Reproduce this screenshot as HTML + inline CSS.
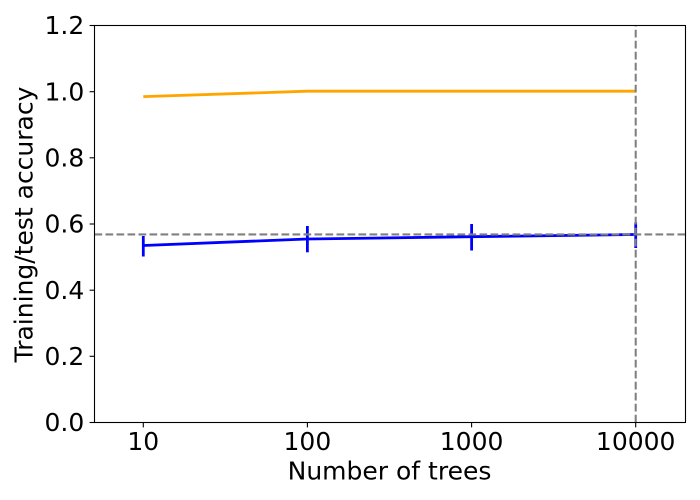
<!DOCTYPE html>
<html>
<head>
<meta charset="utf-8">
<style>
  html, body { margin: 0; padding: 0; background: #ffffff; }
  svg { display: block; }
  text { font-family: "DejaVu Sans", "Liberation Sans", sans-serif; fill: #000; }
</style>
</head>
<body>
<svg width="700" height="500" viewBox="0 0 700 500" xmlns="http://www.w3.org/2000/svg">
  <rect x="0" y="0" width="700" height="500" fill="#ffffff"/>

  <!-- orange training line -->
  <polyline points="143.3,96.6 307.4,91.2 471.6,91.2 635.7,91.2" fill="none" stroke="#FFA500" stroke-width="2.78" stroke-linejoin="round" stroke-linecap="butt"/>

  <!-- blue test line -->
  <polyline points="143.3,245.5 307.4,239 471.6,236.7 635.7,234.5" fill="none" stroke="#0000FF" stroke-width="2.78" stroke-linejoin="round" stroke-linecap="butt"/>
  <!-- error bars -->
  <g stroke="#0000FF" stroke-width="2.78" stroke-linecap="butt">
    <line x1="143.3" y1="236" x2="143.3" y2="256.5"/>
    <line x1="307.4" y1="226" x2="307.4" y2="252.3"/>
    <line x1="471.6" y1="224" x2="471.6" y2="250.5"/>
    <line x1="635.7" y1="222.5" x2="635.7" y2="248"/>
  </g>

  <!-- dashed reference lines -->
  <line x1="94.5" y1="234.4" x2="685.5" y2="234.4" stroke="#808080" stroke-width="2.08" stroke-dasharray="7.7,3.3"/>
  <line x1="635.7" y1="422.5" x2="635.7" y2="25.5" stroke="#808080" stroke-width="2.08" stroke-dasharray="7.7,3.3"/>

  <!-- spines -->
  <rect x="94.5" y="25.5" width="591" height="397" fill="none" stroke="#000" stroke-width="1.1"/>

  <!-- y ticks -->
  <g stroke="#000" stroke-width="1.1">
    <line x1="89.6" y1="422.5" x2="94.5" y2="422.5"/>
    <line x1="89.6" y1="356.3" x2="94.5" y2="356.3"/>
    <line x1="89.6" y1="290.2" x2="94.5" y2="290.2"/>
    <line x1="89.6" y1="224" x2="94.5" y2="224"/>
    <line x1="89.6" y1="157.8" x2="94.5" y2="157.8"/>
    <line x1="89.6" y1="91.7" x2="94.5" y2="91.7"/>
    <line x1="89.6" y1="25.5" x2="94.5" y2="25.5"/>
  </g>
  <g font-size="25" text-anchor="end">
    <text x="84.3" y="431.2">0.0</text>
    <text x="84.3" y="365.0">0.2</text>
    <text x="84.3" y="298.9">0.4</text>
    <text x="84.3" y="232.7">0.6</text>
    <text x="84.3" y="166.5">0.8</text>
    <text x="84.3" y="100.4">1.0</text>
    <text x="84.3" y="34.2">1.2</text>
  </g>

  <!-- x ticks -->
  <g stroke="#000" stroke-width="1.1">
    <line x1="143.3" y1="422.5" x2="143.3" y2="427.4"/>
    <line x1="307.4" y1="422.5" x2="307.4" y2="427.4"/>
    <line x1="471.6" y1="422.5" x2="471.6" y2="427.4"/>
    <line x1="635.7" y1="422.5" x2="635.7" y2="427.4"/>
  </g>
  <g font-size="25" text-anchor="middle">
    <text x="143.3" y="450.2">10</text>
    <text x="307.4" y="450.2">100</text>
    <text x="471.6" y="450.2">1000</text>
    <text x="635.7" y="450.2">10000</text>
  </g>

  <!-- axis labels -->
  <text x="389.5" y="479.5" font-size="25" text-anchor="middle">Number of trees</text>
  <text x="0" y="0" font-size="25" text-anchor="middle" transform="translate(32.5,224.5) rotate(-90)">Training/test accuracy</text>
</svg>
</body>
</html>
